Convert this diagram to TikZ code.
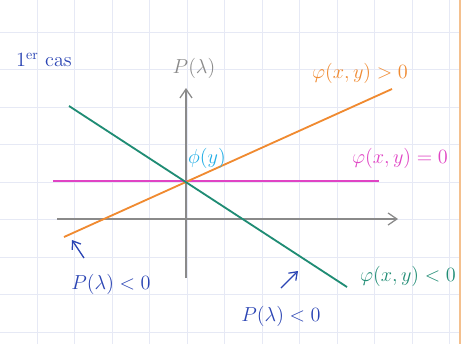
\documentclass[tikz,border=0pt]{standalone}
\usepackage{amsmath}
\usepackage{tikz}
\usetikzlibrary{positioning, arrows.meta}
\usepackage{xcolor}
\definecolor{gridblue}{HTML}{E6E9F5}
\definecolor{axisgray}{HTML}{8A8A8A}
\definecolor{posorange}{HTML}{F08A30}
\definecolor{negteal}{HTML}{1F8C74}
\definecolor{zeromagenta}{HTML}{E044C4}
\definecolor{phicyan}{HTML}{22AEE6}
\definecolor{inkblue}{HTML}{2A44B4}
\definecolor{paperedge}{HTML}{F4C08E}

\begin{document}
\begin{tikzpicture}[
        x=0.025cm, y=-0.025cm,
        gridline/.style={draw=gridblue, line width=0.5pt},
        axis/.style={draw=axisgray, line width=0.9pt},
        axisarr/.style={axis, -{Straight Barb[length=2.2mm, width=3mm]}},
        curve/.style={line width=1.3pt},
        inkarr/.style={draw=inkblue, line width=0.9pt, -{Straight Barb[length=1.8mm, width=2.6mm]}},
        lbl/.style={font=\Large, inner sep=1pt},
      ]
        \useasboundingbox (0,0) rectangle (461,344);
        \fill[white] (0,0) rectangle (461,344);
        \foreach \gx in {37,74.5,...,452} \draw[gridline] (\gx,0) -- (\gx,344);
        \foreach \gy in {32,69.5,...,340} \draw[gridline] (0,\gy) -- (461,\gy);
        \fill[paperedge] (459,0) rectangle (461,344);

        % axes
        \coordinate (xstart) at (57,219);
        \coordinate (xend)   at (398,219);
        \coordinate (ystart) at (186,278);
        \coordinate (yend)   at (186,88);
        \draw[axisarr] (xstart) -- (xend);
        \draw[axisarr] (ystart) -- (yend);
        \node[lbl, text=axisgray] (plam) at (194,68) {$P(\lambda)$};

        % the three lines
        \coordinate (posA)  at (64,237);
        \coordinate (posB)  at (392,89);
        \coordinate (negA)  at (69,106);
        \coordinate (negB)  at (347,287);
        \coordinate (zeroA) at (53,181);
        \coordinate (zeroB) at (379,181);
        \draw[curve, zeromagenta] (zeroA) -- (zeroB);
        \draw[curve, posorange] (posA) -- (posB);
        \draw[curve, negteal] (negA) -- (negB);

        \node[lbl, text=phicyan] (phiy) at (207,158) {$\phi(y)$};
        \node[lbl, text=posorange] (fpos) at (360,73) {$\varphi(x,y)>0$};
        \node[lbl, text=zeromagenta] (fzero) at (400,158) {$\varphi(x,y)=0$};
        \node[lbl, text=negteal] (fneg) at (408,276) {$\varphi(x,y)<0$};

        \node[lbl, text=inkblue] (cas) at (44,60) {1\textsuperscript{er} cas};

        % negative regions
        \node[lbl, text=inkblue] (pneg1) at (111,284) {$P(\lambda)<0$};
        \node[lbl, text=inkblue] (pneg2) at (281,316) {$P(\lambda)<0$};
        \coordinate (tailA) at (84,258);
        \coordinate (tipA)  at (72,240);
        \coordinate (tailB) at (281,288);
        \coordinate (tipB)  at (298,271);
        \draw[inkarr] (tailA) -- (tipA);
        \draw[inkarr] (tailB) -- (tipB);
      \end{tikzpicture}
\end{document}
